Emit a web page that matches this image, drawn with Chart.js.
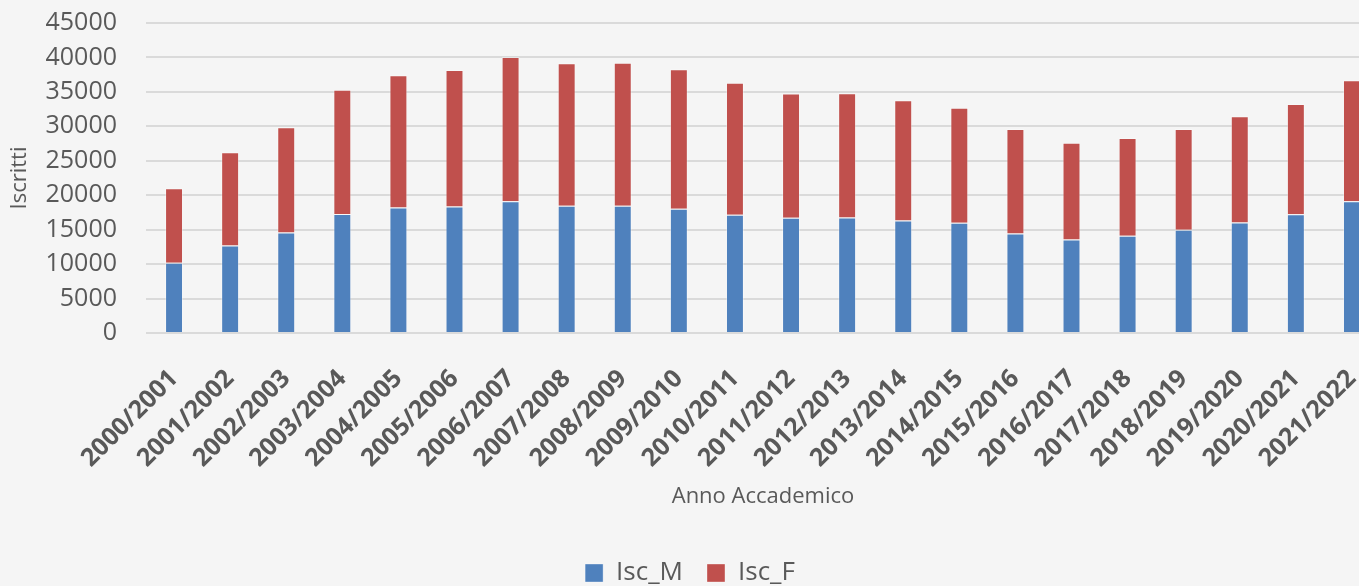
<!DOCTYPE html>
<html>
<head>
<meta charset="utf-8">
<script src="https://cdn.jsdelivr.net/npm/chart.js@4.4.1/dist/chart.umd.min.js"></script>
<style>
  html, body { margin: 0; padding: 0; background: #f5f5f5; overflow: hidden; }
  #wrap { width: 1392px; height: 586px; }
</style>
</head>
<body>
<div id="wrap"><canvas id="c" width="1392" height="586"></canvas></div>
<script>
const categories = ["2000/2001","2001/2002","2002/2003","2003/2004","2004/2005","2005/2006","2006/2007","2007/2008","2008/2009","2009/2010","2010/2011","2011/2012","2012/2013","2013/2014","2014/2015","2015/2016","2016/2017","2017/2018","2018/2019","2019/2020","2020/2021","2021/2022"];
const iscM = [10180,12710,14600,17260,18235,18380,19110,18470,18470,18035,17160,16730,16780,16345,16000,14455,13580,14110,14980,16055,17220,19110];
const iscF = [10820,13526,15270,18040,19195,19780,20940,20705,20750,20265,19150,18030,18030,17455,16680,15170,14050,14205,14645,15415,16040,17590];
const yTicks = [0,5000,10000,15000,20000,25000,30000,35000,40000,45000];

const txt = '#595959';
const FONT = '"Open Sans", "Noto Sans", sans-serif';

new Chart(document.getElementById('c'), {
  type: 'bar',
  data: {
    labels: categories,
    datasets: [
      { label: 'Isc_M', data: iscM, backgroundColor: '#4f81bd', borderColor: 'rgba(255,255,255,0.35)', borderWidth: 1, barPercentage: 0.32, categoryPercentage: 1 },
      { label: 'Isc_F', data: iscF, backgroundColor: '#c0504d', borderColor: 'rgba(255,255,255,0.35)', borderWidth: 1, barPercentage: 0.32, categoryPercentage: 1 }
    ]
  },
  options: {
    responsive: false,
    animation: false,
    devicePixelRatio: 1,
    layout: { padding: { top: 23, right: 12, left: 0, bottom: 0 } },
    plugins: {
      legend: {
        position: 'bottom',
        maxHeight: 50,
        labels: {
          boxWidth: 18, boxHeight: 18, padding: 24,
          color: txt, font: { family: FONT, size: 26 }
        }
      },
      tooltip: { enabled: false }
    },
    scales: {
      x: {
        stacked: true,
        grid: { display: false, drawTicks: false },
        border: { display: false },
        ticks: {
          color: txt, font: { family: FONT, size: 25, weight: 'bold' },
          minRotation: 45, maxRotation: 45, padding: 31, autoSkip: false
        },
        title: { display: true, text: 'Anno Accademico', color: txt, font: { family: FONT, size: 22 }, padding: { top: 0, bottom: 26 } },
        afterFit: (s) => { s.height = 203; s.paddingLeft = 0; s.paddingRight = 0; }
      },
      y: {
        stacked: true,
        min: 0, max: 45000,
        grid: { color: '#dadada', lineWidth: 2, drawTicks: false },
        border: { display: false },
        afterBuildTicks: (s) => { s.ticks = yTicks.map(v => ({ value: v })); },
        ticks: { color: txt, font: { family: FONT, size: 25 }, padding: 29, callback: (v) => String(v) },
        title: { display: true, text: 'Iscritti', color: txt, font: { family: FONT, size: 22 }, padding: { top: 7, bottom: 0 } },
        afterFit: (s) => { s.width = 146; s.paddingTop = 0; s.paddingBottom = 0; }
      }
    }
  }
});
</script>
</body>
</html>
